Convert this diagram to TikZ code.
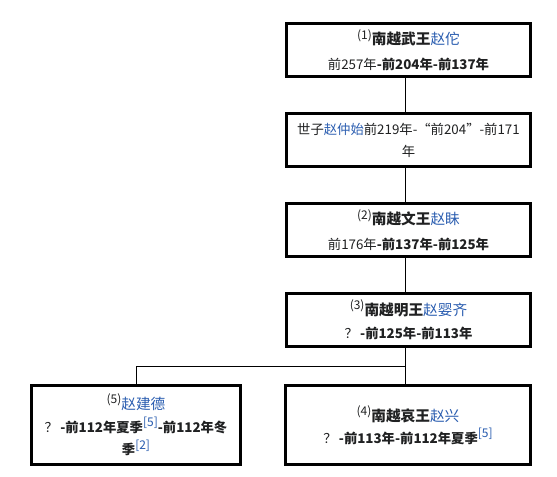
\documentclass[tikz,border=0pt]{standalone}
\usepackage{fontspec}
\setmainfont{Noto Sans CJK SC}
\definecolor{txt}{HTML}{202122}
\definecolor{lnk}{HTML}{2A5DB0}
\newcommand{\lk}[1]{\textcolor{lnk}{#1}}
\newcommand{\nsup}[1]{\raisebox{0.4em}{\fontsize{9pt}{9pt}\selectfont\mdseries #1}}
\newcommand{\hdfont}{\fontsize{11pt}{16pt}\selectfont}
\tikzset{
  box/.style={draw=black, line width=2.25pt, inner sep=0pt, align=center, text=txt,
    font=\fontsize{10pt}{16.5pt}\selectfont},
  wide/.style={box, minimum width=183pt, minimum height=39.75pt},
  tall/.style={box, minimum height=59.25pt},
  conn/.style={draw=black, line width=0.75pt},
}
\begin{document}
\begin{tikzpicture}[x=0.75pt, y=-0.75pt]
\useasboundingbox[fill=white] (0,0) rectangle (557,477);
\coordinate (tx) at (405.5,0);
\coordinate (j) at (405.5,366);

\node[wide] (b1) at (408.5,50)
  {{\hdfont\nsup{(1)}\textbf{南越武王}\lk{赵佗}}\\[2pt]
   前257年\textbf{-前204年-前137年}};
\node[wide] (b2) at (408.5,140)
  {世子\lk{赵仲始}前219年-“前204”-前171\\年};
\node[wide] (b3) at (408.5,230)
  {{\hdfont\nsup{(2)}\textbf{南越文王}\lk{赵眛}}\\[2pt]
   前176年\textbf{-前137年-前125年}};
\node[wide] (b4) at (408.5,320)
  {{\hdfont\nsup{(3)}\textbf{南越明王}\lk{赵婴齐}}\\[1pt]
   ？\,\textbf{-前125年-前113年}};
\node[tall, minimum width=156.75pt] (b5) at (136,425)
  {{\hdfont\nsup{(5)}\lk{赵建德}}\\[0.5pt]
   ？\,\textbf{-前112年夏季}\lk{\nsup{[5]}}\textbf{-前112年冬}\\[0.5pt]
   \textbf{季}\lk{\nsup{[2]}}};
\node[tall, minimum width=183.75pt] (b6) at (408,425)
  {{\hdfont\nsup{(4)}\textbf{南越哀王}\lk{赵兴}}\\
   ？\,\textbf{-前113年-前112年夏季}\lk{\nsup{[5]}}};

\draw[conn] (b1.south -| tx) -- (b2.north -| tx);
\draw[conn] (b2.south -| tx) -- (b3.north -| tx);
\draw[conn] (b3.south -| tx) -- (b4.north -| tx);
\draw[conn] (b4.south -| tx) -- (b6.north -| tx);
\draw[conn] (j) -| (b5.north);
\end{tikzpicture}
\end{document}
